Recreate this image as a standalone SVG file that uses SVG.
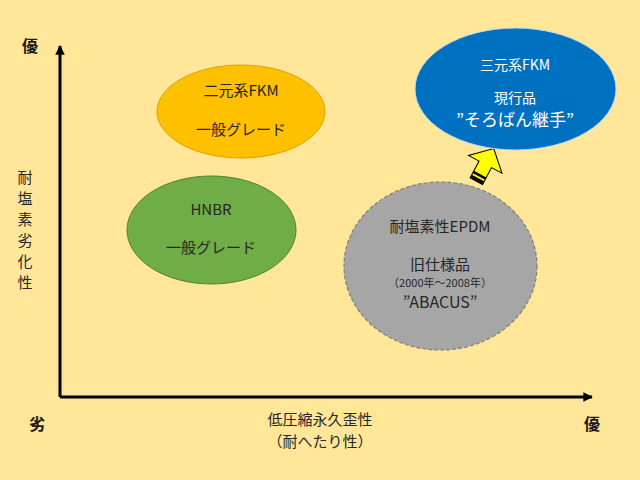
<svg xmlns="http://www.w3.org/2000/svg" width="640" height="480" viewBox="0 0 640 480">
<defs>
<style>
text{font-family:"Noto Sans CJK JP","Liberation Sans",sans-serif;text-anchor:middle;dominant-baseline:central;}
.t{font-size:15px;fill:#262626;}
.w{font-size:14px;fill:#ffffff;}
.ax{font-size:16px;font-weight:bold;fill:#1a1a1a;}
.axl{font-size:15px;fill:#262626;}
.axis{stroke:#000;stroke-width:3;fill:none;}
</style>
<marker id="ah" viewBox="0 0 10 10" refX="9" refY="5" markerWidth="3.2" markerHeight="3.2" orient="auto" markerUnits="strokeWidth">
<path d="M0,0 L10,5 L0,10 z" fill="#000"/>
</marker>
</defs>
<rect width="640" height="480" fill="#FFE699"/>
<g id="connectors">
<line x1="60" y1="397" x2="60" y2="46" class="axis" marker-end="url(#ah)"/>
<line x1="60" y1="397" x2="592" y2="397" class="axis" marker-end="url(#ah)"/>
<g id="arrow" transform="translate(493.7,148.5) rotate(28)">
<path d="M0,0 L19,18 L7,18 L7,37 L-7,37 L-7,18 L-19,18 Z" fill="#FFFF00" stroke="#000" stroke-width="1"/>
<rect x="-7" y="29" width="14" height="2.6" fill="#000"/>
<rect x="-7" y="33.5" width="14" height="3.5" fill="#000"/>
</g>
</g>
<g id="axis-labels">
<text class="ax" x="30" y="45">優</text>
<text class="ax" x="37" y="423">劣</text>
<text class="ax" x="592" y="423">優</text>
<text class="axl" x="320" y="418">低圧縮永久歪性</text>
<text class="axl" x="320" y="440">（耐へたり性）</text>
<text class="axl" x="25" y="176">耐</text>
<text class="axl" x="25" y="197">塩</text>
<text class="axl" x="25" y="218">素</text>
<text class="axl" x="25" y="239">劣</text>
<text class="axl" x="25" y="260">化</text>
<text class="axl" x="25" y="281">性</text>
</g>
<g id="node-fkm2">
<ellipse cx="241" cy="111.5" rx="84" ry="46.5" fill="#FFC000" stroke="#D9A300" stroke-width="1"/>
<text class="t" x="241" y="89">二元系FKM</text>
<text class="t" x="241" y="128">一般グレード</text>
</g>
<g id="node-hnbr">
<ellipse cx="211.5" cy="230" rx="84.5" ry="54" fill="#70AD47" stroke="#548235" stroke-width="1"/>
<text class="t" x="211" y="208">HNBR</text>
<text class="t" x="211" y="246">一般グレード</text>
</g>
<g id="node-fkm3">
<ellipse cx="515.5" cy="89" rx="100.5" ry="61" fill="#0070C0" stroke="#BDD7EE" stroke-width="1"/>
<text class="w" x="515" y="64">三元系FKM</text>
<text class="w" x="515" y="97">現行品</text>
<text class="w" x="515" y="118" style="font-size:17px">”そろばん継手”</text>
</g>
<g id="node-epdm">
<ellipse cx="440.5" cy="266" rx="96.5" ry="84" fill="#A6A6A6" stroke="#7F7F7F" stroke-width="1.2" stroke-dasharray="4,2"/>
<text class="t" x="440" y="225">耐塩素性EPDM</text>
<text class="t" x="440" y="263">旧仕様品</text>
<text class="t" x="440" y="282" style="font-size:11px">（2000年～2008年）</text>
<text class="t" x="440" y="301" style="font-size:16px">”ABACUS”</text>
</g>
</svg>
